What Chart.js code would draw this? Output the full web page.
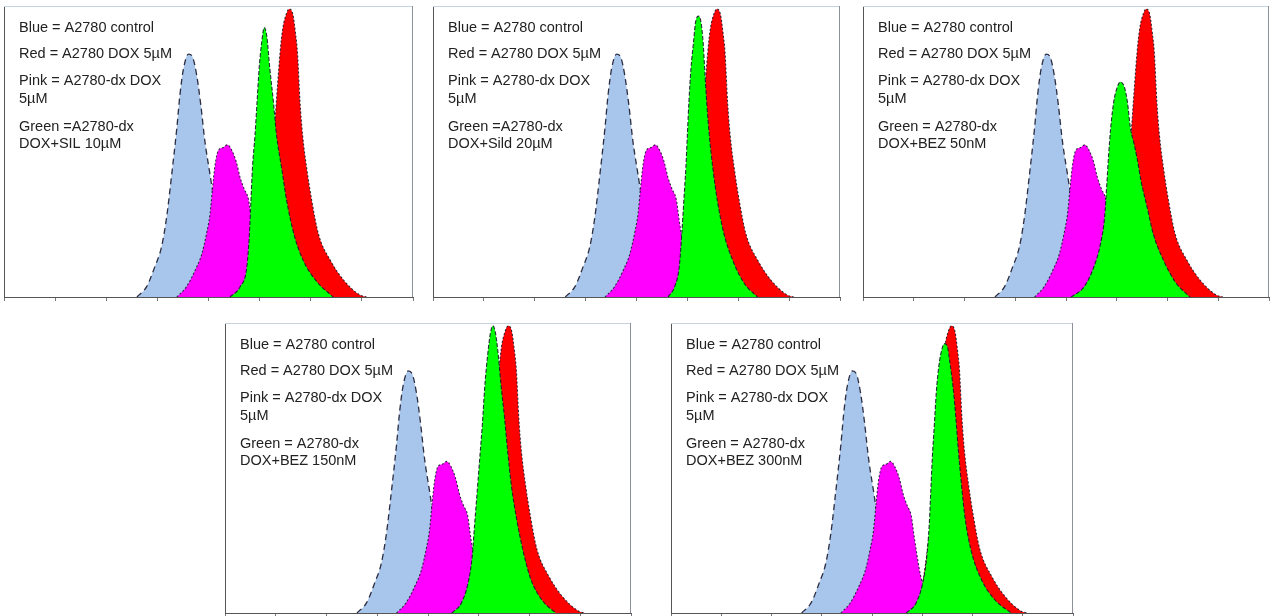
<!DOCTYPE html>
<html>
<head>
<meta charset="utf-8">
<script src="https://cdn.jsdelivr.net/npm/chart.js@4.4.1/dist/chart.umd.min.js"></script>
<style>
  body { margin: 0; background: #fff; width: 1278px; height: 616px; position: relative; overflow: hidden; }
  .panel { position: absolute; }
</style>
</head>
<body>
<script>
// histogram outlines: [channel, % of max]
// blue, red and pink are the same samples in every panel
const controlBlue = [[260,0],[279,3.6],[295,10.5],[308,17.3],[318,27.6],[328,42.5],[338,58.6],[344,70],[351,79.2],[361,84.3],[369,83.2],[377,76.9],[385,66.6],[393,54],[403,42.5],[416,27.6],[432,12.7],[455,2.4],[475,0]];
const doxRed = [[488,0],[501,10.5],[514,27.6],[524,44.8],[530,60.8],[535,73.4],[540,84.9],[545,92.9],[552,98.1],[558,100],[565,98.1],[570,91.8],[574,84.9],[579,67.7],[584,56.3],[592,44.8],[602,33.4],[615,21.9],[638,12.8],[664,5.9],[696,0.7],[709,0]];
const dxPink = [[338,0],[357,3.6],[374,9.3],[387,15],[396,21.9],[403,28.8],[408,38],[413,46],[419,50.8],[429,51.9],[437,52.8],[445,51.1],[454,47.1],[462,41.4],[470,37.4],[478,34],[484,26.5],[497,12.8],[520,1.3],[533,0]];

const greenSil10 = [[442,0],[462,3.6],[475,10.5],[480,21.9],[483,33.4],[486,44.8],[491,56.3],[495,67.7],[499,79.2],[504,88.3],[509,93.5],[514,90.6],[520,79.2],[527,67.7],[533,56.3],[543,44.8],[553,33.4],[567,21.9],[585,12.8],[612,5.3],[644,0]];
const greenSild20 = [[462,0],[475,3.6],[484,10.5],[489,21.9],[493,33.4],[497,44.8],[500,56.3],[503,67.7],[507,79.2],[512,88.3],[516,95.2],[522,97.5],[527,95.2],[531,88.3],[534,79.2],[538,67.7],[543,56.3],[550,44.8],[559,33.4],[572,21.9],[589,12.8],[612,4.7],[638,0]];
const greenBez50 = [[410,0],[436,3.6],[455,10.5],[468,18.5],[476,27.6],[480,38],[484,49.4],[488,58.6],[494,67.7],[500,72.3],[507,74.6],[515,72.9],[521,67.7],[527,58.6],[533,54],[540,48.3],[548,40.2],[560,31.1],[572,21.9],[592,12.8],[615,5.3],[644,0]];
const greenBez150 = [[447,0],[466,3.6],[479,10.5],[487,19.6],[492,31.1],[497,42.5],[502,54],[507,65.4],[512,79.2],[518,90.6],[523,97.5],[528,100],[533,97.5],[538,90.6],[544,79.2],[551,67.7],[557,56.3],[564,44.8],[574,33.4],[587,21.9],[603,11.6],[626,4.2],[652,0]];
const greenBez300 = [[468,0],[488,3.6],[501,10.5],[509,19.6],[514,31.1],[517,42.5],[520,54],[524,65.4],[528,76.9],[533,86],[539,91.8],[544,93.8],[550,92.9],[555,87.2],[561,79.2],[567,67.7],[572,56.3],[578,44.8],[585,33.4],[597,21.9],[618,11.6],[644,4.7],[677,0]];

const commonLines = ['Blue = A2780 control', 'Red = A2780 DOX 5\u00b5M', 'Pink = A2780-dx DOX', '5\u00b5M'];
const greenLines = [
  ['Green =A2780-dx', 'DOX+SIL 10\u00b5M'],
  ['Green =A2780-dx', 'DOX+Sild 20\u00b5M'],
  ['Green = A2780-dx', 'DOX+BEZ 50nM'],
  ['Green = A2780-dx', 'DOX+BEZ 150nM'],
  ['Green = A2780-dx', 'DOX+BEZ 300nM']
];
const greenSeries = [greenSil10, greenSild20, greenBez50, greenBez150, greenBez300];

// plot frames on the page
const boxes = [
  {l: 4, t: 6, r: 413, b: 297},
  {l: 433, t: 6, r: 840, b: 297},
  {l: 863, t: 6, r: 1269, b: 297},
  {l: 225, t: 323, r: 631, b: 613},
  {l: 671, t: 323, r: 1073, b: 613}
];
const lineY = [21.5, 48, 75, 93, 120.5, 138];

const pts = arr => arr.map(p => ({x: p[0], y: p[1]}));

// top/right frame + the key text
const framePlugin = {
  id: 'frameText',
  afterDraw(chart, args, opts) {
    const ctx = chart.ctx, a = chart.chartArea;
    ctx.save();
    ctx.lineWidth = 1;
    ctx.strokeStyle = '#c5d3e0';
    ctx.beginPath(); ctx.moveTo(a.left, a.top + 0.5); ctx.lineTo(a.right, a.top + 0.5); ctx.stroke();
    ctx.strokeStyle = '#8b9099';
    ctx.beginPath(); ctx.moveTo(a.right - 0.5, a.top); ctx.lineTo(a.right - 0.5, a.bottom); ctx.stroke();
    ctx.font = '14.5px "Liberation Sans", Arial, sans-serif';
    ctx.fillStyle = '#222';
    ctx.textBaseline = 'middle';
    opts.lines.forEach((s, i) => ctx.fillText(s, a.left + 15, a.top + lineY[i]));
    ctx.restore();
  }
};

function makeSet(data, fillCol, dash, w) {
  return {
    data: pts(data),
    backgroundColor: fillCol,
    borderColor: 'rgba(25,25,45,0.9)',
    borderWidth: w,
    borderDash: dash,
    fill: 'origin',
    pointRadius: 0,
    cubicInterpolationMode: 'monotone'
  };
}

boxes.forEach((bx, i) => {
  const div = document.createElement('div');
  div.className = 'panel';
  div.style.left = (bx.l - 3) + 'px';
  div.style.top = (bx.t - 3) + 'px';
  div.style.width = (bx.r - bx.l + 6) + 'px';
  div.style.height = (bx.b - bx.t + 13) + 'px';
  const cv = document.createElement('canvas');
  div.appendChild(cv);
  document.body.appendChild(div);

  new Chart(cv, {
    type: 'line',
    data: {
      // first dataset is painted on top
      datasets: [
        makeSet(greenSeries[i], '#00ff00', [4, 2], 1.1),
        makeSet(dxPink, '#ff00ff', [2, 2], 1.1),
        makeSet(controlBlue, '#a8c6ec', [6, 4], 1.3),
        makeSet(doxRed, '#ff0000', [2, 2], 1.1)
      ]
    },
    options: {
      responsive: true,
      maintainAspectRatio: false,
      animation: false,
      events: [],
      layout: { padding: { left: 3, right: 3, top: 3, bottom: 6 } },
      scales: {
        x: {
          type: 'linear', min: 0, max: 800,
          ticks: { display: false, stepSize: 100 },
          grid: { display: true, drawOnChartArea: false, drawTicks: true, tickLength: 4, color: '#777' },
          border: { display: true, color: '#555' }
        },
        y: {
          min: 0, max: 101,
          ticks: { display: false },
          grid: { display: false, drawTicks: false },
          border: { display: true, color: '#555' }
        }
      },
      plugins: {
        legend: { display: false },
        tooltip: { enabled: false },
        frameText: { lines: commonLines.concat(greenLines[i]) }
      }
    },
    plugins: [framePlugin]
  });
});
</script>
</body>
</html>
